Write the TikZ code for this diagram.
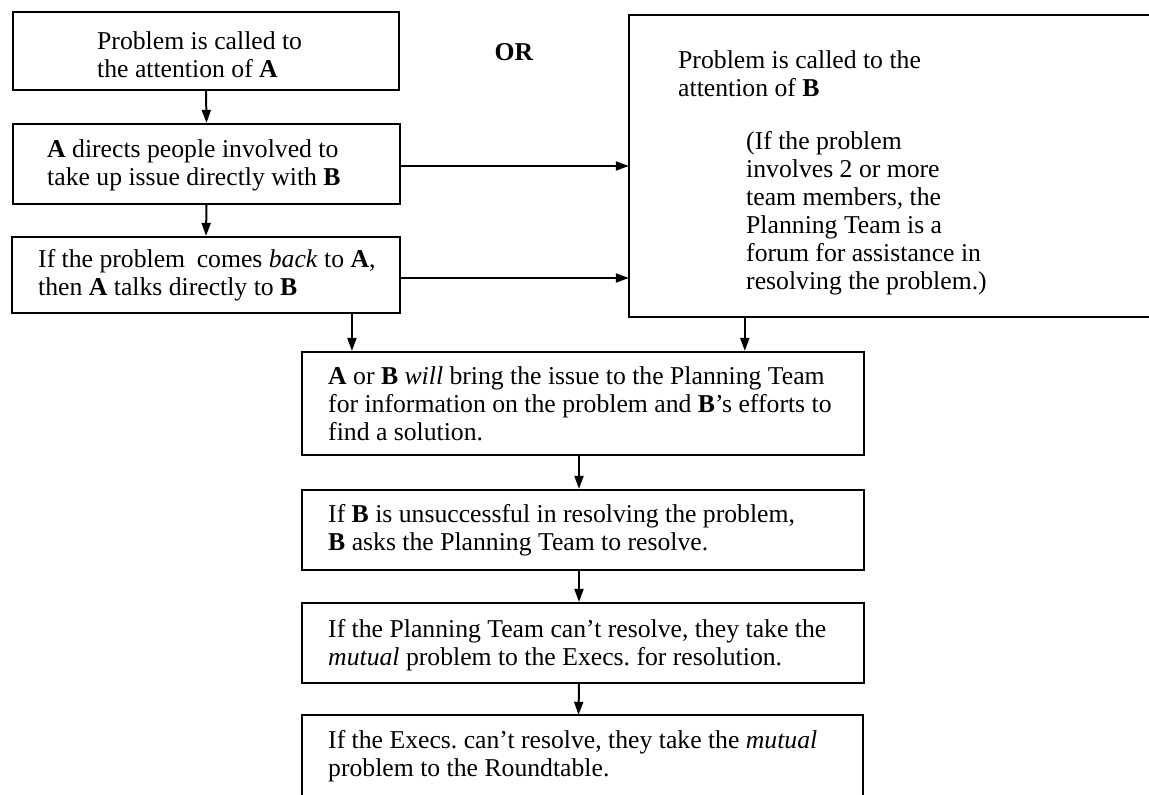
\documentclass[tikz,border=0pt]{standalone}
\usepackage{fontspec}
\setmainfont{Liberation Serif}
\usetikzlibrary{arrows.meta,calc}
\begin{document}
\frenchspacing
\begin{tikzpicture}[x=1pt,y=-1pt,
  box/.style={draw,line width=2.2pt,rectangle,inner sep=0pt},
  frame/.style={rectangle,inner sep=0pt},
  edge/.style={line width=2.2pt},
  txt/.style={anchor=north west,align=left,inner sep=0pt,font=\fontsize{25.7}{28}\selectfont},
  ortxt/.style={anchor=base,inner sep=0pt,font=\fontsize{25.7}{28}\selectfont\bfseries},
  arr/.style={line width=2pt,-{Triangle[length=13pt,width=9pt]}}]
\useasboundingbox (0,0) rectangle (1149,795);
\fill[white] (0,0) rectangle (1149,795);

% boxes
\node[box,minimum width=386pt,minimum height=78pt] (b1) at (206,51) {};
\node[box,minimum width=387pt,minimum height=80pt] (b2) at (206.5,164) {};
\node[box,minimum width=388pt,minimum height=76pt] (b3) at (206,275) {};
\node[frame,minimum width=520pt,minimum height=302pt] (r) at (889,166) {};
\draw[edge] (r.north east) -- (r.north west) -- (r.south west) -- (r.south east);
\node[box,minimum width=562pt,minimum height=103pt] (b4) at (583,403.5) {};
\node[box,minimum width=562pt,minimum height=80pt] (b5) at (583,530) {};
\node[box,minimum width=562pt,minimum height=80pt] (b6) at (583,643) {};
\node[frame,minimum width=561pt,minimum height=85pt] (b7) at (582.5,757.5) {};
\draw[edge] (b7.south west) -- (b7.north west) -- (b7.north east) -- (b7.south east);

% texts
\node[txt] (t1) at (97,31.5) {Problem is called to\\the attention of \textbf{A}};
\node[txt] (t2) at (47,139.5) {\textbf{A} directs people involved to\\take up issue directly with \textbf{B}};
\node[txt] (t3) at (38,249.5) {If the problem\hspace{0.2em} comes \textit{back} to \textbf{A},\\then \textbf{A} talks directly to \textbf{B}};
\node[ortxt] (or) at (514,60) {OR};
\node[txt] (tr1) at (678,50.5) {Problem is called to the\\attention of \textbf{B}};
\node[txt] (tr2) at (746,131.5) {(If the problem\\involves 2 or more\\team members, the\\Planning Team is a\\forum for assistance in\\resolving the problem.)};
\node[txt] (t4) at (328,366.5) {\textbf{A} or \textbf{B} \textit{will} bring the issue to the Planning Team\\for information on the problem and \textbf{B}’s efforts to\\find a solution.};
\node[txt] (t5) at (328,504.5) {If \textbf{B} is unsuccessful in resolving the problem,\\\textbf{B} asks the Planning Team to resolve.};
\node[txt] (t6) at (328,619.5) {If the Planning Team can’t resolve, they take the\\\textit{mutual} problem to the Execs. for resolution.};
\node[txt] (t7) at (328,730.5) {If the Execs. can’t resolve, they take the \textit{mutual}\\problem to the Roundtable.};

% connectors
\draw[arr] (b1.south) -- (b2.north);
\draw[arr] (b2.south) -- (b3.north);
\draw[arr] ([yshift=-2pt]b2.east) coordinate (e2) -- (e2 -| r.west);
\draw[arr] ([yshift=-3pt]b3.east) coordinate (e3) -- (e3 -| r.west);
\draw[arr] ($(b3.south west)!0.874!(b3.south east)$) coordinate (s34) -- (s34 |- b4.north);
\draw[arr] ([xshift=116pt]r.south west) coordinate (sr4) -- (sr4 |- b4.north);
\draw[arr] ([xshift=-4pt]b4.south) -- ([xshift=-4pt]b5.north);
\draw[arr] ([xshift=-4pt]b5.south) -- ([xshift=-4pt]b6.north);
\draw[arr] ([xshift=-4pt]b6.south) -- ([xshift=-4pt]b7.north);
\end{tikzpicture}
\end{document}
